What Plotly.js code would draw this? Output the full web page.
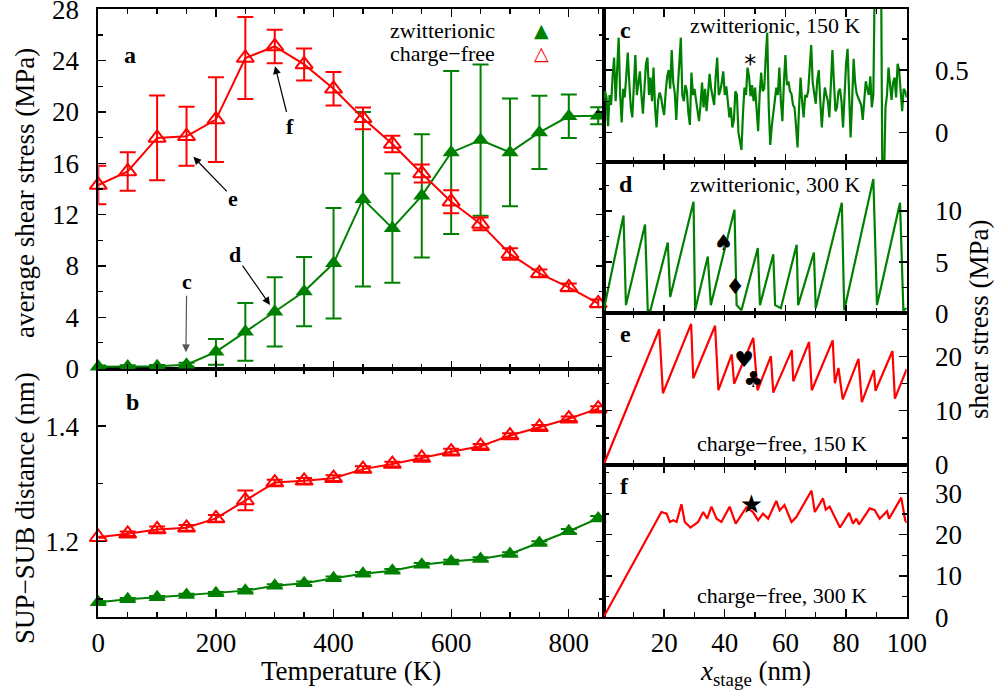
<!DOCTYPE html>
<html><head><meta charset="utf-8">
<script src="https://cdn.plot.ly/plotly-3.0.1.min.js"></script>
<style>html,body{margin:0;padding:0;background:#fff}#chart{width:995px;height:696px}</style>
</head><body><div id="chart"></div>
<script>
// ---------- data ----------
const temperature = [0,50,100,150,200,250,300,350,400,450,500,550,600,650,700,750,800,850];
const zwitStress    = [0.13,0.15,0.18,0.30,1.30,2.86,4.42,6.00,8.20,13.20,10.94,13.46,16.84,17.80,16.84,18.40,19.66,19.70];
const zwitStressErr = [0.10,0.10,0.10,0.15,1.00,2.25,2.70,2.70,4.30,6.80,4.25,4.80,6.35,5.90,4.20,2.85,1.70,0.67];
const freeStress    = [14.30,15.36,17.97,18.10,19.40,24.20,25.10,23.70,21.80,19.50,17.50,15.20,13.00,11.27,8.93,7.42,6.33,5.08];
const freeStressErr = [1.50,1.50,3.30,2.30,3.30,3.20,1.30,1.25,1.30,0.85,0.65,0.70,0.90,0.50,0.45,0.30,0.30,0.30];
const zwitDist      = [1.094,1.0993,1.1028,1.1068,1.1098,1.1143,1.1226,1.1273,1.136,1.1435,1.1488,1.1593,1.165,1.1692,1.178,1.1972,1.2175,1.2397];
const zwitDistErr   = [0.002,0.002,0.002,0.002,0.002,0.003,0.003,0.003,0.003,0.003,0.003,0.003,0.003,0.003,0.003,0.003,0.004,0.004];
const freeDist      = [1.207,1.213,1.2205,1.2234,1.2397,1.271,1.302,1.305,1.3096,1.3253,1.334,1.3446,1.3556,1.365,1.3836,1.398,1.4128,1.4303];
const freeDistErr   = [0.001,0.004,0.005,0.005,0.006,0.017,0.005,0.005,0.005,0.005,0.004,0.004,0.005,0.004,0.004,0.004,0.004,0.004];

// panel c: zwitterionic, 150 K
const cX = [0,0.5,1,1.5,2,2.5,3,3.5,4,4.5,5,5.5,6,6.5,7,7.5,8,8.5,9,9.5,10,10.5,11,11.5,12,12.5,13,13.5,14,14.5,15,15.5,16,16.5,17,17.5,18,18.5,19,19.5,
20,20.5,21,21.5,22,22.5,23,23.5,24,24.5,25,25.5,26,26.5,27,27.5,28,28.5,29,29.5,30,30.5,31,31.5,32,32.5,33,33.5,34,34.5,35,35.5,36,36.5,37,37.5,38,38.5,39,39.5,
40,40.5,41,41.5,42,42.5,43,43.5,44,44.5,45,45.5,46,46.5,47,47.5,48,48.5,49,49.5,50,50.5,51,51.5,52,52.5,53,53.5,54,54.5,55,55.5,56,56.5,57,57.5,58,58.5,59,59.5,
60,60.5,61,61.5,62,62.5,63,63.5,64,64.5,65,65.5,66,66.5,67,67.5,68,68.5,69,69.5,70,70.5,71,71.5,72,72.5,73,73.5,74,74.5,75,75.5,76,76.5,77,77.5,78,78.5,79,79.5,
80,80.5,81,81.5,82,82.5,83,83.5,84,84.5,85,85.5,86,86.5,87,87.5,88,88.5,89,89.5,90,90.5,91,91.5,92,92.5,93,93.5,94,94.5,95,95.5,96,96.5,97,97.5,98,98.5,99,99.5,100];
const cStress = [0.25,0.33,0.28,0.05,0.30,0.22,0.45,0.60,0.25,0.50, 0.76,0.30,0.08,0.35,0.28,0.45,0.64,0.40,0.20,0.12,
0.45,0.62,0.30,0.38,0.49,0.30,0.15,0.35,0.55,0.60, 0.30,0.44,0.25,0.52,0.20,0.04,0.25,0.32,0.28,0.20,
0.14,0.32,0.45,0.50,0.35,0.66,0.40,0.32,0.10,0.35, 0.60,0.76,0.30,0.25,0.38,0.33,0.15,0.06,0.48,0.30,
0.35,0.26,0.20,0.09,0.22,0.40,0.20,0.35,0.17,0.30, 0.47,0.35,0.28,0.22,0.45,0.60,0.30,0.33,0.40,0.49,
0.30,0.37,0.25,0.12,0.20,0.04,0.10,0.33,0.30,0.00, -0.07,-0.14,0.15,0.36,0.30,0.52,0.45,0.29,0.38,0.25,
0.36,0.20,0.01,0.30,0.48,0.33,0.35,0.60,0.80,0.20, -0.10,0.05,0.15,0.28,0.36,0.30,0.52,0.25,0.09,0.40,
0.62,0.38,0.41,0.33,0.31,0.22,0.20,0.05,-0.12,0.20, 0.44,0.25,0.12,0.30,0.28,0.33,0.50,0.70,0.40,0.30,
0.23,0.42,0.50,0.25,0.04,0.22,0.36,0.30,0.25,0.12, 0.45,0.66,0.40,0.17,0.20,0.33,0.35,0.25,0.04,0.30,
0.55,0.67,0.20,-0.04,0.25,0.59,0.40,0.31,0.28,0.25, 0.22,0.10,0.25,0.41,0.35,0.30,0.45,0.20,0.30,1.30,
1.50,1.50,1.50,1.50,-0.50,-0.40,0.20,0.30,0.52,0.35, 0.26,0.40,0.44,0.28,0.55,0.50,0.30,0.17,0.35,0.33, 0.28];

// panel d: zwitterionic, 300 K
const dX = [0,6.6,7.4,13.7,14.6,15.5,21.2,22.0,29.7,30.2,34.4,35.4,43.2,43.9,45.5,50.9,51.6,56.0,56.6,58.5,63.7,64.2,69.4,70.0,78.6,79.4,89.0,90.2,97.8,98.9,100];
const dStress = [0.2,9.54,0.8,8.66,0.3,0.3,6.9,1.6,10.9,0.3,5.55,0.8,10.1,0.8,0.3,6.37,0.8,5.76,0.8,0.5,6.7,0.8,5.94,0.5,10.8,0.3,13.1,0.8,10.8,0.3,0.5];

// panel e: charge-free, 150 K
const eX = [0,18.4,19.6,28.9,29.6,36.8,37.9,42.3,43.1,49.4,50.8,55.2,56.0,62.1,62.6,67.8,68.7,75.6,76.3,77.5,78.9,84.1,85.2,89.2,89.7,95.3,96.1,100];
const eStress = [0,25.06,13.24,26.04,16.0,25.7,13.8,20.4,15.0,23.45,13.8,20.1,13.35,21.2,15.45,22.7,13.8,23.0,15.1,17.9,12.1,19.6,11.6,17.5,13.7,21.05,12.25,17.7];

// panel f: charge-free, 300 K
const fX = [0,19.1,20.8,21.9,23.0,24.1,25.7,26.8,28.7,31.2,32.9,34.2,35.6,37.3,38.9,41.6,43.6,47.1,49.3,51.0,52.6,54.3,57.0,58.1,59.7,62.0,63.6,68.6,69.7,72.4,73.3,74.6,78.0,81.0,82.3,83.4,84.3,87.8,89.4,91.1,93.5,94.2,98.2,99.5,100];
const fStress = [0,25.5,25.1,23.1,23.5,23.1,27.4,23.1,21.75,23.1,25.5,23.9,26.8,23.9,23.1,26.8,22.7,26.6,25.5,23.5,25.1,23.9,28.2,25.9,27.2,23.1,24.3,30.7,25.5,28.8,26.1,26.8,21.75,25.3,22.7,23.9,22.5,26.4,26.0,23.9,25.7,23.9,29.0,23.5,22.9];

// card-suit markers in the right panels
const symC = {x:[48.4], y:[0.535], t:['*']};
const symD = {x:[39.6,43.4], y:[6.7,2.45], t:['♠','♦']};
const symE = {x:[46.4,49.4], y:[19.15,15.45], t:['♥','♣']};
const symF = {x:[48.8], y:[26.8], t:['★']};

// arrows in panel a
const arrowLabel = ['c','d','e','f'];
const arrowHeadT = [149,292,161.6,300.5];
const arrowHeadV = [1.27,4.95,16.5,23.56];
const arrowTextT = [150.3,232.5,229.6,326];
const arrowTextV = [6.77,8.85,13.28,18.9];

// tick labels
const leftXTicks = [0,200,400,600,800];
const rightXTicks = [20,40,60,80,100];

// ---------- styling ----------
const GREEN = '#008000', RED = '#ff0000';
const FONT = 'Liberation Serif';
const SYMFONT = 'DejaVu Sans';
const W = 995, H = 696;
const fx = p => p / W, fy = p => 1 - p / H;
const L = [fx(98.3), fx(603.5)], R = [fx(603.5), fx(906.7)];

function minorT(extra) {
  return Object.assign({ticks: 'inside', ticklen: 5, tickwidth: 1.3, tickcolor: 'black', showgrid: false}, extra);
}
function axis(extra) {
  return Object.assign({
    showline: true, linecolor: 'black', linewidth: 2, mirror: 'allticks',
    ticks: 'inside', ticklen: 8, tickwidth: 1.3, tickcolor: 'black',
    showgrid: false, zeroline: false, fixedrange: true, ticklabeloverflow: 'allow',
    tickfont: {family: FONT, size: 27, color: 'black'}
  }, extra);
}

const lineW = 2;
const traces = [
  // panel a
  {x: temperature, y: zwitStress, xaxis: 'x2', yaxis: 'y2', mode: 'lines+markers', cliponaxis: false,
   line: {color: GREEN, width: lineW}, marker: {symbol: 'triangle-up', size: 15, color: GREEN},
   error_y: {type: 'data', array: zwitStressErr, color: GREEN, thickness: 2, width: 8}},
  {x: temperature, y: freeStress, xaxis: 'x2', yaxis: 'y2', mode: 'lines+markers', cliponaxis: false,
   line: {color: RED, width: lineW}, marker: {symbol: 'triangle-up-open', size: 15, color: RED, line: {width: 2, color: RED}},
   error_y: {type: 'data', array: freeStressErr, color: RED, thickness: 2, width: 8}},
  // panel b
  {x: temperature, y: zwitDist, xaxis: 'x', yaxis: 'y', mode: 'lines+markers', cliponaxis: false,
   line: {color: GREEN, width: lineW}, marker: {symbol: 'triangle-up', size: 15, color: GREEN},
   error_y: {type: 'data', array: zwitDistErr, color: GREEN, thickness: 2, width: 8}},
  {x: temperature, y: freeDist, xaxis: 'x', yaxis: 'y', mode: 'lines+markers', cliponaxis: false,
   line: {color: RED, width: lineW}, marker: {symbol: 'triangle-up-open', size: 15, color: RED, line: {width: 2, color: RED}},
   error_y: {type: 'data', array: freeDistErr, color: RED, thickness: 2, width: 8}},
  // right panels
  {x: cX, y: cStress, xaxis: 'x3', yaxis: 'y3', mode: 'lines', line: {color: GREEN, width: 2.2}},
  {x: dX, y: dStress, xaxis: 'x4', yaxis: 'y4', mode: 'lines', line: {color: GREEN, width: 2.2}},
  {x: eX, y: eStress, xaxis: 'x5', yaxis: 'y5', mode: 'lines', line: {color: RED, width: 2.2}},
  {x: fX, y: fStress, xaxis: 'x6', yaxis: 'y6', mode: 'lines', line: {color: RED, width: 2.2}},
  {x: symC.x, y: symC.y, text: symC.t, xaxis: 'x3', yaxis: 'y3', mode: 'text', textfont: {family: SYMFONT, size: 24, color: 'black'}},
  {x: symD.x, y: symD.y, text: symD.t, xaxis: 'x4', yaxis: 'y4', mode: 'text', textfont: {family: SYMFONT, size: 22, color: 'black'}},
  {x: symE.x, y: symE.y, text: symE.t, xaxis: 'x5', yaxis: 'y5', mode: 'text', textfont: {family: SYMFONT, size: 22, color: 'black'}},
  {x: symF.x, y: symF.y, text: symF.t, xaxis: 'x6', yaxis: 'y6', mode: 'text', textfont: {family: SYMFONT, size: 26, color: 'black'}}
];

const ann = [];
function txt(x, y, text, size, extra) {
  ann.push(Object.assign({xref: 'paper', yref: 'paper', x: fx(x), y: fy(y), text: text, showarrow: false,
    xanchor: 'center', yanchor: 'middle', font: {family: FONT, size: size, color: 'black'}}, extra || {}));
}
txt(25, 193, 'average shear stress (MPa)', 27, {textangle: -90});
txt(25, 508, 'SUP−SUB distance (nm)', 27, {textangle: -90});
txt(979, 320, 'shear stress (MPa)', 27, {textangle: -90});
txt(351, 671, 'Temperature (K)', 27);
txt(755, 673, '<i>x</i><sub>stage</sub> (nm)', 27);
txt(130, 55, '<b>a</b>', 24);
txt(132, 402, '<b>b</b>', 24);
txt(625, 30, '<b>c</b>', 24);
txt(626, 184, '<b>d</b>', 24);
txt(625, 334, '<b>e</b>', 24);
txt(624, 486, '<b>f</b>', 24);
txt(775, 26, 'zwitterionic, 150 K', 22);
txt(775, 185, 'zwitterionic, 300 K', 22);
txt(782, 443, 'charge−free, 150 K', 22);
txt(782, 595, 'charge−free, 300 K', 22);
txt(497, 31, 'zwitterionic', 22, {xanchor: 'right'});
txt(497, 53, 'charge−free', 22, {xanchor: 'right'});
txt(541, 30, '▲', 19, {font: {family: SYMFONT, size: 19, color: GREEN}});
txt(541, 53, '△', 19, {font: {family: SYMFONT, size: 19, color: RED}});

for (let i = 0; i < arrowLabel.length; i++) {
  ann.push({xref: 'x2', yref: 'y2', axref: 'x2', ayref: 'y2',
    x: arrowHeadT[i], y: arrowHeadV[i], ax: arrowTextT[i], ay: arrowTextV[i],
    text: '<b>' + arrowLabel[i] + '</b>', showarrow: true, arrowhead: 2, arrowsize: 1.3, arrowwidth: 1.2,
    arrowcolor: i === 0 ? '#555' : 'black', standoff: 0, startstandoff: 0,
    font: {family: FONT, size: 22, color: 'black'}});
}

const layout = {
  width: W, height: H, margin: {l: 0, r: 0, t: 0, b: 0},
  font: {family: FONT, color: 'black'},
  paper_bgcolor: 'white', plot_bgcolor: 'rgba(0,0,0,0)', showlegend: false,
  xaxis: axis({domain: L, anchor: 'y', range: [0, 859], tickmode: 'array', tickvals: leftXTicks, ticklabelstandoff: 0,
    minor: minorT({tickmode: 'linear', tick0: 0, dtick: 50})}),
  yaxis: axis({domain: [fy(617.3), fy(368.5)], anchor: 'x', range: [1.068, 1.5], tick0: 0, dtick: 0.2,
    minor: minorT({tick0: 0, dtick: 0.1}), ticklabelstandoff: 12}),
  xaxis2: axis({domain: L, anchor: 'y2', range: [0, 859], dtick: 200, tick0: 0, showticklabels: false,
    minor: minorT({tick0: 0, dtick: 50})}),
  yaxis2: axis({domain: [fy(368.5), fy(9)], anchor: 'x2', range: [0, 28.02], dtick: 4, tick0: 0,
    minor: minorT({tick0: 0, dtick: 2}), ticklabelstandoff: 12}),
  xaxis3: axis({domain: R, anchor: 'y3', range: [0, 100], dtick: 20, tick0: 0, showticklabels: false,
    minor: minorT({tick0: 0, dtick: 10})}),
  xaxis4: axis({domain: R, anchor: 'y4', range: [0, 100], dtick: 20, tick0: 0, showticklabels: false,
    minor: minorT({tick0: 0, dtick: 10})}),
  xaxis5: axis({domain: R, anchor: 'y5', range: [0, 100], dtick: 20, tick0: 0, showticklabels: false,
    minor: minorT({tick0: 0, dtick: 10})}),
  xaxis6: axis({domain: R, anchor: 'y6', range: [0, 100], tickmode: 'array', tickvals: rightXTicks, ticklabelstandoff: 0,
    minor: minorT({tickmode: 'linear', tick0: 0, dtick: 10})}),
  yaxis3: axis({domain: [fy(161.7), fy(9)], anchor: 'x3', side: 'right', range: [-0.235, 0.99], tickmode: 'array', tickvals: [0, 0.5], ticktext: ['0', '0.5'],
    ticklabelstandoff: 21, minor: minorT({tickmode: 'linear', tick0: 0, dtick: 0.25})}),
  yaxis4: axis({domain: [fy(313.3), fy(161.7)], anchor: 'x4', side: 'right', range: [0, 14.8], dtick: 5, tick0: 0,
    ticklabelstandoff: 21, minor: minorT({tick0: 0, dtick: 2.5})}),
  yaxis5: axis({domain: [fy(465), fy(313.3)], anchor: 'x5', side: 'right', range: [0, 28], dtick: 10, tick0: 0,
    ticklabelstandoff: 21, minor: minorT({tick0: 0, dtick: 5})}),
  yaxis6: axis({domain: [fy(617.3), fy(465)], anchor: 'x6', side: 'right', range: [0, 36.9], dtick: 10, tick0: 0,
    ticklabelstandoff: 21, minor: minorT({tick0: 0, dtick: 5})}),
  annotations: ann
};

Plotly.newPlot('chart', traces, layout, {displayModeBar: false, staticPlot: true});
</script>
</body></html>
